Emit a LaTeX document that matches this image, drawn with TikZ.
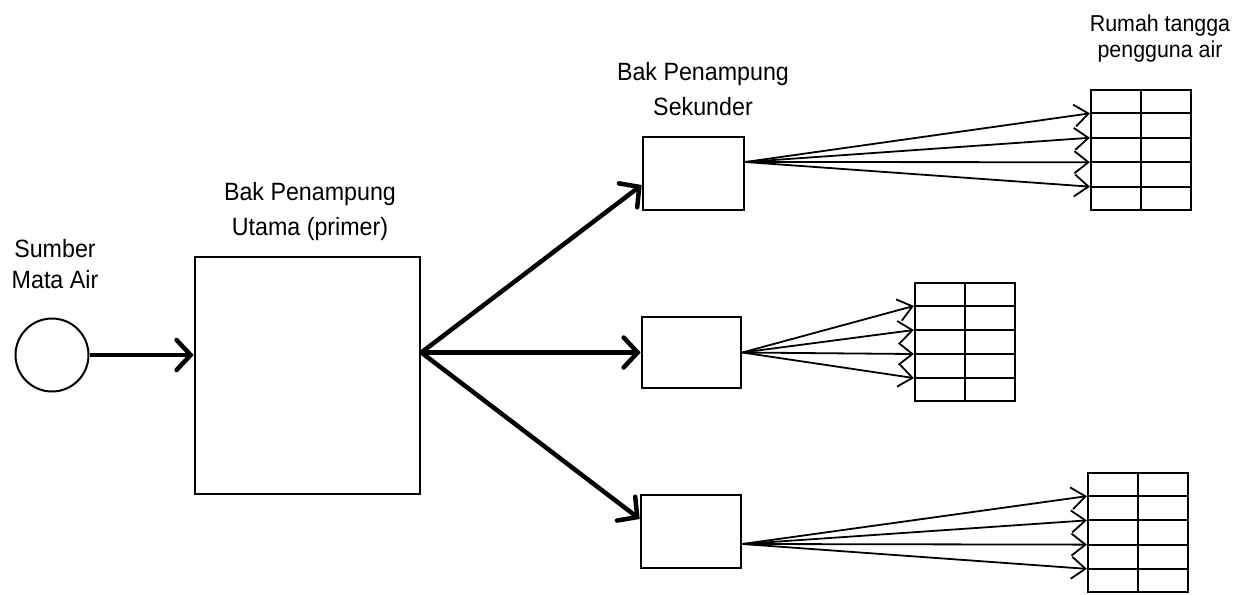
\documentclass[tikz,border=0pt]{standalone}
\usepackage{fontspec}
\setmainfont{Liberation Sans}[FakeStretch=0.93]
\usetikzlibrary{arrows.meta,calc}

\begin{document}
\begin{tikzpicture}[x=1pt,y=-1pt,
  tank/.style={draw, line width=2.6pt, inner sep=0pt},
  house/.style={draw, line width=2.2pt, inner sep=0pt, minimum width=100pt},
  caption/.style={align=center, inner sep=0pt, anchor=base,
    font=\fontsize{25}{35}\selectfont},
  mainflow/.style={line width=4.5pt,
    -{Straight Barb[length=14pt,width=30pt,line cap=round]}},
  fanflow/.style={line width=1.8pt,
    -{Straight Barb[length=14pt,width=22pt]}},
  cell/.style={line width=2.2pt}]

\useasboundingbox (0,0) rectangle (1236,594);

% spring
\node[draw, circle, line width=2pt, minimum size=73pt, inner sep=0pt] (spring) at (52,355) {};
\node[caption, font=\fontsize{25}{31}\selectfont] (springlbl) at (55,288) {Sumber\\Mata Air};

% primary tank
\node[tank, minimum width=225pt, minimum height=237pt] (prim) at (307.5,375.5) {};
\node[caption] (primlbl) at (310,235) {Bak Penampung\\Utama (primer)};

% secondary tanks
\node[tank, minimum width=101pt, minimum height=73pt] (sec1) at (693.5,173.5) {};
\node[tank, minimum width=99pt, minimum height=71pt] (sec2) at (691.5,352.5) {};
\node[tank, minimum width=100pt, minimum height=73pt] (sec3) at (691,531.5) {};
\node[caption] (seclbl) at (703,115) {Bak Penampung\\Sekunder};

% households
\node[house, minimum height=120pt] (h1) at (1141,150) {};
\node[house, minimum height=118pt] (h2) at (965,342) {};
\node[house, minimum height=119pt] (h3) at (1138,532.5) {};
\node[caption, font=\fontsize{23}{25}\selectfont] (hlbl) at (1160,57) {Rumah tangga\\pengguna air};

% spring to primary tank
\draw[mainflow] (spring.east) -- (spring.east -| prim.west);

% primary tank to secondary tanks
\coordinate (hub) at (prim.east |- sec2.west);
\draw[mainflow] (hub) -- ([yshift=-11.5pt]sec1.west);
\draw[mainflow] (hub) -- (sec2.west);
\draw[mainflow] (hub) -- ([yshift=12.5pt]sec3.west);

% outlets of the secondary tanks
\coordinate (o1) at ([yshift=11.5pt]sec1.east);
\coordinate (o2) at (sec2.east);
\coordinate (o3) at ([yshift=-12.5pt]sec3.east);

% house grids and supply lines
\foreach \h/\o in {h1/o1, h2/o2, h3/o3} {
  \draw[cell] (\h.north) -- (\h.south);
  \foreach \k in {1,...,4} {
    \coordinate (\h-\k) at ($(\h.north west)!\k/5!(\h.south west)$);
    \draw[cell] (\h-\k) -- ($(\h.north east)!\k/5!(\h.south east)$);
    \draw[fanflow] (\o) -- (\h-\k);
  }
}
\end{tikzpicture}
\end{document}
